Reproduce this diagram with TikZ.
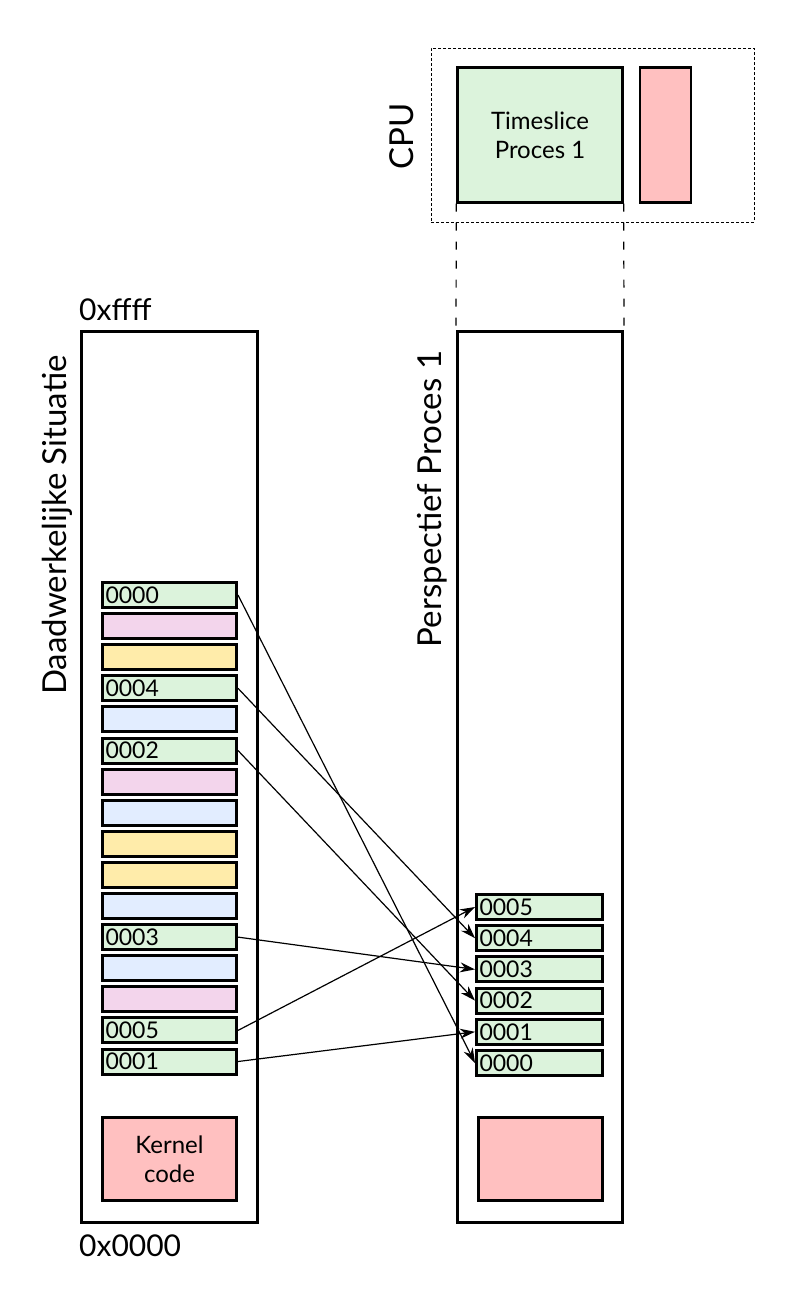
\documentclass[tikz,border=0pt]{standalone}
\usepackage{fontspec}
\setmainfont{Lato}
\usetikzlibrary{arrows.meta}

\definecolor{pgreen}{RGB}{220,243,220}
\definecolor{ppink}{RGB}{243,213,236}
\definecolor{pyellow}{RGB}{255,236,170}
\definecolor{pblue}{RGB}{226,237,255}
\definecolor{pred}{RGB}{255,192,192}

\tikzset{mem/.style={draw, line width=3pt, minimum width=#1, minimum height=891pt, inner sep=0pt}, mem/.default={176pt}}
\tikzset{page/.style={draw, line width=3pt, fill=#1, text width=128pt, inner xsep=3pt, inner ysep=0pt, minimum height=25pt, align=left, font=\fontsize{23}{24}\selectfont}}
\tikzset{conn/.style={line width=1.2pt, -{Stealth[length=15pt, width=10pt]}}}
\tikzset{title/.style={rotate=90, font=\fontsize{33}{36}\selectfont}}

\begin{document}
\begin{tikzpicture}[x=1pt, y=-1pt]
	\useasboundingbox (0,0) rectangle (791,1302);
	
	% CPU
	\node[draw, densely dashed, line width=1pt, minimum width=323pt, minimum height=174pt] (cpu) at (592.5,135) {};
	\node[draw, line width=2.4pt, fill=pgreen, minimum width=165pt, minimum height=135pt, align=center, font=\fontsize{24}{29}\selectfont] (slice) at (540,135) {Timeslice\\Proces 1};
	\node[draw, line width=2.4pt, fill=pred, minimum width=51pt, minimum height=135pt] (slice2) at (665.5,135) {};
	\node[title] at (402,136) {CPU};
	
	% memory
	\node[mem] (real) at (169.5,777) {};
	\node[mem=165pt] (proc) at (540,777) {};
	\node[title] at (57,525) {Daadwerkelijke Situatie};
	\node[title] at (432,499) {Perspectief Proces 1};
	\node[anchor=base west, font=\fontsize{30}{32}\selectfont, inner sep=0pt] at (79,320) {0xffff};
	\node[anchor=base west, font=\fontsize{30}{32}\selectfont, inner sep=0pt] at (79,1256) {0x0000};
	
	% timeslice borders
	\draw[dashed, line width=1.2pt, dash pattern=on 8pt off 11pt] (slice.south west) -- (proc.north west);
	\draw[dashed, line width=1.2pt, dash pattern=on 8pt off 11pt] (slice.south east) -- (proc.north east);
	
	% pages in physical memory
	\foreach \c/\t [count=\i from 0] in {pgreen/0000, ppink/, pyellow/, pgreen/0004, pblue/, pgreen/0002, ppink/, pblue/, pyellow/, pyellow/, pblue/, pgreen/0003, pblue/, ppink/, pgreen/0005, pgreen/0001}
		\node[page=\c] (l\i) at (169.5,{595+31.1*\i}) {\t};
	
	% pages of proces 1
	\foreach \i in {0,...,5}
		\node[page=pgreen, text width=120pt] (p\i) at (539.5,{1063-31.2*\i}) {000\i};
	
	% kernel
	\node[draw, line width=3pt, fill=pred, minimum width=134pt, minimum height=83pt, align=center, font=\fontsize{24}{29}\selectfont] (kern) at (169.5,1159) {Kernel\\code};
	\node[draw, line width=3pt, fill=pred, minimum width=124pt, minimum height=83pt] (kern2) at (540.5,1159) {};
	
	% mapping
	\draw[conn] (l0.east) -- (p0.west);
	\draw[conn] (l3.east) -- (p4.west);
	\draw[conn] (l5.east) -- (p2.west);
	\draw[conn] (l11.east) -- (p3.west);
	\draw[conn] (l14.east) -- (p5.west);
	\draw[conn] (l15.east) -- (p1.west);
	
\end{tikzpicture}
\end{document}
